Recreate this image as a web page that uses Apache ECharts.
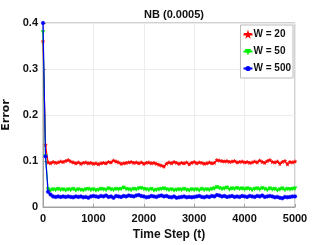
<!DOCTYPE html>
<html><head><meta charset="utf-8">
<script src="https://cdn.jsdelivr.net/npm/echarts@6/dist/echarts.min.js"></script>
<style>html,body{margin:0;padding:0;background:#fff}#c{width:327px;height:245px}</style>
</head><body><div id="c"></div>
<script>
const title = "NB (0.0005)";
const xLabel = "Time Step (t)";
const yLabel = "Error";
const stepSize = 50;
const xTicks = [0, 1000, 2000, 3000, 4000, 5000];
const yTicks = [0, 0.1, 0.2, 0.3, 0.4];
const seriesNames = ["W = 20", "W = 50", "W = 500"];
const w20 = [
 0.360,0.135,0.097,0.095,0.098,0.096,0.097,0.099,0.098,0.100,
 0.102,0.099,0.097,0.095,0.097,0.094,0.096,0.097,0.095,0.096,
 0.094,0.095,0.093,0.095,0.096,0.095,0.098,0.097,0.101,0.099,
 0.097,0.094,0.095,0.096,0.097,0.098,0.096,0.097,0.095,0.097,
 0.094,0.096,0.097,0.095,0.096,0.094,0.092,0.090,0.088,0.094,
 0.097,0.095,0.098,0.096,0.094,0.096,0.095,0.097,0.093,0.096,
 0.098,0.095,0.097,0.096,0.094,0.095,0.097,0.095,0.096,0.102,
 0.101,0.100,0.099,0.100,0.098,0.099,0.100,0.097,0.098,0.099,
 0.097,0.098,0.096,0.097,0.099,0.097,0.101,0.098,0.096,0.100,
 0.102,0.098,0.097,0.099,0.094,0.098,0.100,0.093,0.098,0.097,
 0.099];
const w50 = [
 0.380,0.110,0.038,0.036,0.038,0.037,0.039,0.037,0.038,0.036,
 0.038,0.037,0.039,0.036,0.038,0.037,0.036,0.038,0.039,0.037,
 0.038,0.036,0.037,0.039,0.038,0.037,0.040,0.038,0.037,0.039,
 0.038,0.039,0.042,0.039,0.038,0.037,0.039,0.038,0.040,0.041,
 0.039,0.038,0.037,0.039,0.036,0.037,0.038,0.039,0.040,0.038,
 0.037,0.038,0.036,0.037,0.038,0.037,0.039,0.037,0.036,0.038,
 0.037,0.038,0.036,0.039,0.037,0.038,0.037,0.039,0.040,0.043,
 0.041,0.039,0.040,0.042,0.038,0.040,0.039,0.041,0.039,0.040,
 0.038,0.040,0.039,0.037,0.039,0.040,0.038,0.041,0.039,0.037,
 0.040,0.038,0.039,0.036,0.038,0.040,0.037,0.039,0.038,0.039,
 0.040];
const w500 = [
 0.400,0.110,0.033,0.027,0.023,0.022,0.023,0.022,0.023,0.022,
 0.023,0.022,0.021,0.023,0.022,0.023,0.021,0.022,0.020,0.023,
 0.024,0.023,0.022,0.024,0.023,0.025,0.022,0.023,0.020,0.024,
 0.023,0.022,0.024,0.023,0.025,0.024,0.023,0.025,0.026,0.024,
 0.023,0.021,0.022,0.024,0.023,0.022,0.024,0.025,0.023,0.024,
 0.022,0.021,0.023,0.020,0.021,0.022,0.023,0.021,0.022,0.021,
 0.022,0.023,0.024,0.022,0.021,0.023,0.022,0.024,0.023,0.026,
 0.025,0.023,0.024,0.022,0.023,0.024,0.022,0.023,0.022,0.024,
 0.023,0.022,0.024,0.023,0.022,0.024,0.023,0.025,0.022,0.023,
 0.024,0.023,0.021,0.022,0.020,0.019,0.022,0.021,0.022,0.023,
 0.023];
const colors = ["#ff0000", "#00ee00", "#0000ff"];
const symbols = ["path://M0,-5L1.2,-1.6L5,-1.6L2,0.8L3,4.5L0,2.3L-3,4.5L-2,0.8L-5,-1.6L-1.2,-1.6Z", "triangle", "circle"];
const symbolRot = [0, 180, 0];

const pairs = arr => arr.map((v, i) => [i * stepSize, v]);
const font = "'Liberation Sans',Arial,sans-serif";
const chart = echarts.init(document.getElementById('c'), null, {renderer: 'canvas'});
const allSeries = [w20, w50, w500];
chart.setOption({
  animation: false,
  backgroundColor: '#fff',
  title: {text: title, left: 169, top: 4, textAlign: 'center',
    textStyle: {fontFamily: font, fontSize: 11, fontWeight: 'bold', color: '#111'}},
  grid: {left: 43, right: 32, top: 23, bottom: 38, show: true, borderColor: '#a0a0a0', borderWidth: 1,
    containLabel: false, outerBoundsMode: 'none'},
  legend: {orient: 'vertical', right: 34, top: 25, data: seriesNames,
    backgroundColor: '#fff', borderColor: '#bbb', borderWidth: 1, padding: [4, 2, 4, 2],
    itemWidth: 9, itemHeight: 4, itemGap: 6,
    textStyle: {fontFamily: font, fontSize: 10, fontWeight: 'bold', color: '#111', lineHeight: 11, padding: [0, 0, 0, -4]}},
  xAxis: {type: 'value', min: 0, max: 5000, interval: 1000,
    name: xLabel, nameLocation: 'middle', nameGap: 21,
    nameTextStyle: {fontFamily: font, fontSize: 12, fontWeight: 'bold', color: '#111'},
    axisLine: {show: true, lineStyle: {color: '#a0a0a0'}},
    axisTick: {show: true, inside: true, length: 3, lineStyle: {color: '#a0a0a0'}},
    axisLabel: {fontFamily: font, fontSize: 11, fontWeight: 'bold', color: '#111', margin: 6,
      formatter: v => String(v)},
    splitLine: {show: true, lineStyle: {color: '#ececec', width: 1}}},
  yAxis: {type: 'value', min: 0, max: 0.4, interval: 0.1,
    name: yLabel, nameLocation: 'middle', nameGap: 21, nameRotate: 90,
    nameTextStyle: {fontFamily: "'DejaVu Sans',sans-serif", fontSize: 11, fontWeight: 'bold', color: '#111'},
    axisLine: {show: true, lineStyle: {color: '#a0a0a0'}},
    axisTick: {show: true, inside: true, length: 3, lineStyle: {color: '#a0a0a0'}},
    axisLabel: {fontFamily: font, fontSize: 11, fontWeight: 'bold', color: '#111', margin: 5,
      formatter: v => (v === 0 ? '0' : v.toFixed(1))},
    splitLine: {show: true, lineStyle: {color: '#ececec', width: 1}}},
  series: allSeries.map((arr, k) => ({
    name: seriesNames[k], type: 'line', data: pairs(arr),
    symbol: symbols[k], symbolSize: 3.5, symbolRotate: symbolRot[k], showSymbol: true,
    itemStyle: {color: colors[k], borderColor: colors[k], borderWidth: 0.6},
    lineStyle: {color: colors[k], width: 1.2},
    z: 3 + k
  }))
});
</script></body></html>
